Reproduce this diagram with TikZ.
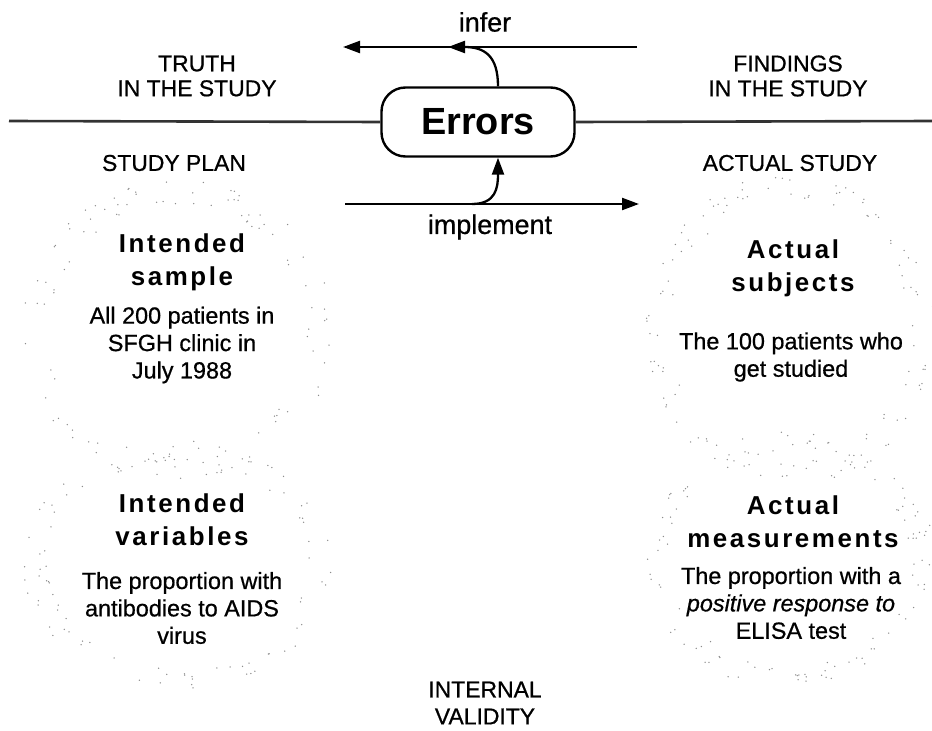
\documentclass[tikz,border=0pt]{standalone}
\usepackage{fontspec}
\setmainfont{Liberation Sans}
\newfontfamily\heavy[FakeBold=0.7]{Liberation Sans}
\newfontfamily\titlefont[LetterSpace=10]{Liberation Sans}
\usetikzlibrary{arrows.meta,calc}

\tikzset{
  flow/.style={line width=2.3bp, black},
  headL/.style={-{Triangle[length=17bp,width=12bp]}},
  divider/.style={line width=2.6bp, black!80},
  errbox/.style={draw, line width=2.4bp, rounded corners=24bp,
    minimum width=193bp, minimum height=69bp, inner sep=0pt,
    font=\fontsize{38}{40}\selectfont\bfseries},
  caplabel/.style={align=center, inner sep=0pt,
    font=\fontsize{23}{25}\heavy},
  verb/.style={inner sep=0pt, font=\fontsize{27}{30}\heavy},
  title/.style={align=center, inner sep=0pt,
    font=\fontsize{26}{33}\titlefont\bfseries},
  body/.style={align=center, inner sep=0pt,
    font=\fontsize{23.5}{27.5}\heavy},
  speck/.style={fill=black!45},
}

% sparse stipple round a blob: centre, x radius, y radius, dot count
\newcommand\stipple[4]{%
  \foreach \k in {1,...,#4}{%
    \pgfmathsetmacro\ang{rnd*360}%
    \pgfmathsetmacro\rad{0.86+0.18*rnd}%
    \fill[speck] ($(#1)+(\ang:{\rad*#2} and {\rad*#3})$) circle (0.75bp);
  }%
}

\begin{document}
\begin{tikzpicture}[x=1bp, y=-1bp]
  \useasboundingbox (0,0) rectangle (932,731);

  % faint stippled backgrounds behind the four blocks
  \pgfmathsetseed{17}
  \coordinate (blobA) at (178,330);
  \coordinate (blobB) at (178,565);
  \coordinate (blobC) at (790,330);
  \coordinate (blobD) at (790,560);
  \stipple{blobA}{150}{145}{110}
  \stipple{blobB}{150}{120}{90}
  \stipple{blobC}{140}{150}{120}
  \stipple{blobD}{140}{125}{110}

  % central box and the dividing line through it
  \node[errbox, fill=white] (errors) at (478,122) {Errors};
  \coordinate (divL) at (9,121);
  \coordinate (divR) at (932,121);
  \draw[divider] (divL) -- (errors.west);
  \draw[divider] (errors.east) -- (divR);

  % infer arrow (upper) with the error feed
  \node[verb] (infer) at (485,22) {infer};
  \coordinate (infR) at (637,47);
  \coordinate (infL) at (343,47);
  \coordinate (infMid) at (448,47);
  \draw[flow, headL] (infR) -- (infL);
  \draw[flow, headL] ([xshift=20bp]errors.north)
     .. controls ([xshift=20bp,yshift=30bp]errors.north) and (485,47) .. (infMid);

  % implement arrow (lower) with the error feed
  \coordinate (impL) at (345,204);
  \coordinate (impR) at (639,204);
  \coordinate (impStart) at (472,204);
  \draw[flow, headL] (impL) -- (impR);
  \draw[flow, headL] (impStart)
     .. controls (496,204) and ([xshift=20bp,yshift=-30bp]errors.south) .. ([xshift=20bp]errors.south);
  \node[verb] (implement) at (490,227) {implement};

  % upper labels
  \node[caplabel] (truth) at (197,76) {TRUTH\\IN THE STUDY};
  \node[caplabel] (findings) at (788,76) {FINDINGS\\IN THE STUDY};

  % column headings
  \node[caplabel] (plan) at (174,163) {STUDY PLAN};
  \node[caplabel] (actual) at (790,163) {ACTUAL STUDY};

  % left column
  \node[title] (isample) at (182,262) {Intended\\sample};
  \node[body] (isampleT) at (182,345) {All 200 patients in\\SFGH clinic in\\July 1988};
  \node[title] (ivars) at (182,520) {Intended\\variables};
  \node[body] (ivarsT) at (182,608) {The proportion with\\antibodies to AIDS\\virus};

  % right column
  \node[title] (asubj) at (793,268) {Actual\\subjects};
  \node[body] (asubjT) at (791,357) {The 100 patients who\\get studied};
  \node[title] (ameas) at (793,522) {Actual\\measurements};
  \node[body] (ameasT) at (791,603) {The proportion with a\\\itshape positive response to\\ELISA test};

  % bottom label
  \node[caplabel, font=\fontsize{23}{27}\heavy] (internal) at (485,703) {INTERNAL\\VALIDITY};
\end{tikzpicture}
\end{document}
